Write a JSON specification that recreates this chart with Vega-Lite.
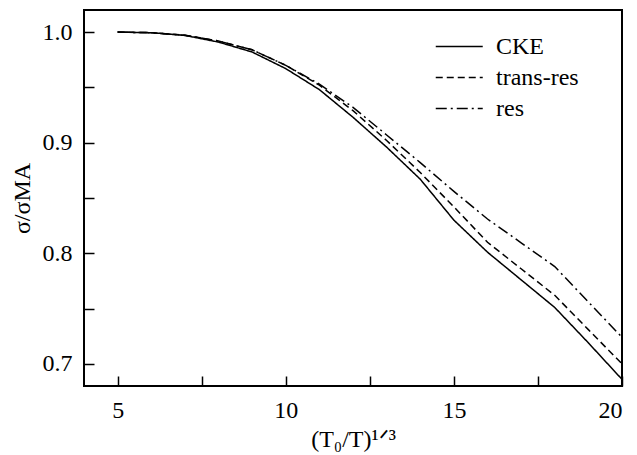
{
  "$schema": "https://vega.github.io/schema/vega-lite/v6.json",
  "width": 538,
  "height": 376,
  "autosize": "none",
  "padding": {"left": 84, "top": 10, "right": 15, "bottom": 69},
  "background": "white",
  "config": {
    "font": "Times New Roman, Liberation Serif, DejaVu Serif, serif",
    "view": {"stroke": "black", "strokeWidth": 2},
    "axis": {"domain": false, "grid": false, "tickColor": "black", "tickWidth": 1.5, "tickSize": -10, "labelColor": "black", "labelFont": "Times New Roman, Liberation Serif, DejaVu Serif, serif", "labelFontSize": 24, "titleFont": "Times New Roman, Liberation Serif, DejaVu Serif, serif", "titleFontSize": 24, "titleFontWeight": "normal", "titleColor": "black", "labelPadding": 22},
    "legend": {"labelFont": "Times New Roman, Liberation Serif, DejaVu Serif, serif", "labelFontSize": 24, "labelColor": "black"}
  },
  "data": {
    "values": [
      {"x": 5, "y": 1.0, "s": "CKE"},
      {"x": 6, "y": 0.9995, "s": "CKE"},
      {"x": 7, "y": 0.997, "s": "CKE"},
      {"x": 8, "y": 0.991, "s": "CKE"},
      {"x": 9, "y": 0.982, "s": "CKE"},
      {"x": 10, "y": 0.967, "s": "CKE"},
      {"x": 11, "y": 0.948, "s": "CKE"},
      {"x": 12, "y": 0.923, "s": "CKE"},
      {"x": 13, "y": 0.896, "s": "CKE"},
      {"x": 14, "y": 0.867, "s": "CKE"},
      {"x": 15, "y": 0.830, "s": "CKE"},
      {"x": 16, "y": 0.801, "s": "CKE"},
      {"x": 17, "y": 0.776, "s": "CKE"},
      {"x": 18, "y": 0.751, "s": "CKE"},
      {"x": 19, "y": 0.719, "s": "CKE"},
      {"x": 20, "y": 0.686, "s": "CKE"},
      {"x": 5, "y": 1.0, "s": "trans-res"},
      {"x": 6, "y": 0.9995, "s": "trans-res"},
      {"x": 7, "y": 0.9972, "s": "trans-res"},
      {"x": 8, "y": 0.992, "s": "trans-res"},
      {"x": 9, "y": 0.984, "s": "trans-res"},
      {"x": 10, "y": 0.970, "s": "trans-res"},
      {"x": 11, "y": 0.952, "s": "trans-res"},
      {"x": 12, "y": 0.929, "s": "trans-res"},
      {"x": 13, "y": 0.902, "s": "trans-res"},
      {"x": 14, "y": 0.873, "s": "trans-res"},
      {"x": 15, "y": 0.842, "s": "trans-res"},
      {"x": 16, "y": 0.810, "s": "trans-res"},
      {"x": 17, "y": 0.786, "s": "trans-res"},
      {"x": 18, "y": 0.762, "s": "trans-res"},
      {"x": 19, "y": 0.731, "s": "trans-res"},
      {"x": 20, "y": 0.700, "s": "trans-res"},
      {"x": 5, "y": 1.0, "s": "res"},
      {"x": 6, "y": 0.9995, "s": "res"},
      {"x": 7, "y": 0.9972, "s": "res"},
      {"x": 8, "y": 0.992, "s": "res"},
      {"x": 9, "y": 0.984, "s": "res"},
      {"x": 10, "y": 0.970, "s": "res"},
      {"x": 11, "y": 0.953, "s": "res"},
      {"x": 12, "y": 0.932, "s": "res"},
      {"x": 13, "y": 0.907, "s": "res"},
      {"x": 14, "y": 0.882, "s": "res"},
      {"x": 15, "y": 0.856, "s": "res"},
      {"x": 16, "y": 0.831, "s": "res"},
      {"x": 17, "y": 0.8095, "s": "res"},
      {"x": 18, "y": 0.788, "s": "res"},
      {"x": 19, "y": 0.756, "s": "res"},
      {"x": 20, "y": 0.724, "s": "res"}
    ]
  },
  "mark": {"type": "line", "color": "black", "strokeWidth": 1.5, "clip": true},
  "encoding": {
    "x": {
      "field": "x", "type": "quantitative",
      "scale": {"domain": [4, 20], "nice": false, "zero": false},
      "axis": {"title": "(T₀/T)¹ᐟ³", "values": [5, 7.5, 10, 12.5, 15, 17.5, 20], "labelExpr": "datum.value % 5 === 0 ? datum.label : ''", "titlePadding": 5}
    },
    "y": {
      "field": "y", "type": "quantitative",
      "scale": {"domain": [0.68, 1.02], "nice": false, "zero": false},
      "axis": {"title": "σ/σMA", "values": [0.7, 0.75, 0.8, 0.85, 0.9, 0.95, 1.0], "labelExpr": "abs(datum.value * 10 - round(datum.value * 10)) < 0.001 ? format(datum.value, '.1f') : ''", "titlePadding": 8}
    },
    "strokeDash": {
      "field": "s", "type": "nominal",
      "scale": {"domain": ["CKE", "trans-res", "res"], "range": [[1, 0], [7, 4], [11, 4, 2, 4]]},
      "legend": {"title": null, "orient": "none", "legendX": 351, "legendY": 24, "symbolType": "M-1,0H3", "symbolSize": 552, "symbolStrokeWidth": 1.5, "symbolStrokeColor": "black", "symbolFillColor": "transparent", "labelOffset": 36, "rowPadding": 6}
    }
  }
}
